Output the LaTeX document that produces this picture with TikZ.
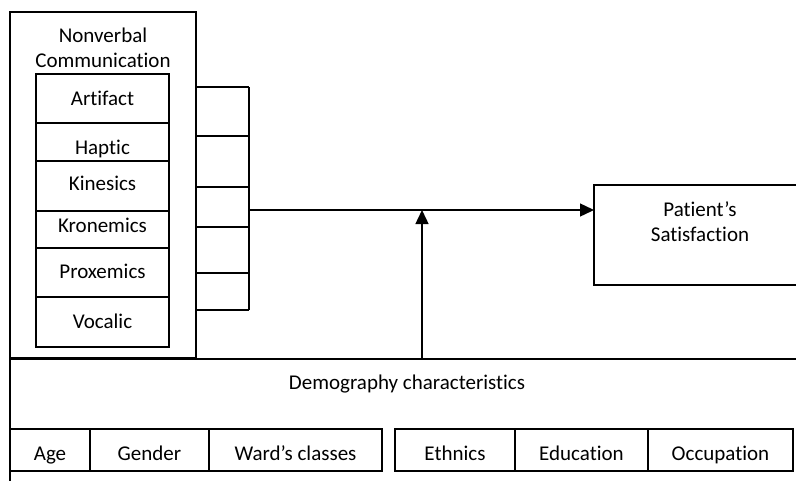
\documentclass[tikz,border=0pt]{standalone}
\usepackage{fontspec}
\setmainfont{Carlito}[Ligatures={NoCommon,NoContextual}]
\usetikzlibrary{arrows.meta}
\begin{document}
\begin{tikzpicture}[x=1pt,y=-1pt,line width=1.4pt,
  bx/.style={draw,inner sep=0pt,outer sep=0pt,anchor=north west},
  wbx/.style={bx,fill=white},
  txt/.style={font=\fontsize{21}{25}\selectfont,inner sep=0pt,align=center},
  lbl/.style={txt,anchor=base},
  arr/.style={-{Triangle[length=14pt,width=13pt]}}]
\useasboundingbox (0,0) rectangle (796,480);
\clip (0,0) rectangle (796,480);
% demography frame (extends beyond right and bottom)
\node[bx,minimum width=820pt,minimum height=140pt] (dem) at (10,359) {};
\node[lbl] (demt) at (407,389) {Demography characteristics};
% nonverbal communication block
\node[wbx,minimum width=186pt,minimum height=346pt] (nv) at (10,12) {};
\node[txt] (nvt) at (103,47.5) {Nonverbal\\Communication};
\node[wbx,minimum width=133pt,minimum height=49pt] (art) at (36,74) {};
\node[lbl] (tart) at (102.5,105) {Artifact};
\node[wbx,minimum width=133pt,minimum height=49pt] (hap) at (36,123) {};
\node[lbl] (thap) at (102.5,154) {Haptic};
\node[wbx,minimum width=133pt,minimum height=50pt] (kin) at (36,161) {};
\node[lbl] (tkin) at (102.5,190) {Kinesics};
\node[wbx,minimum width=133pt,minimum height=49pt] (kro) at (36,211) {};
\node[lbl] (tkro) at (102.5,232) {Kronemics};
\node[wbx,minimum width=133pt,minimum height=49pt] (pro) at (36,248) {};
\node[lbl] (tpro) at (102.5,278) {Proxemics};
\node[wbx,minimum width=133pt,minimum height=50pt] (voc) at (36,297) {};
\node[lbl] (tvoc) at (102.5,328) {Vocalic};
% bracket
\coordinate (b1) at (249,87);
\coordinate (b2) at (249,136);
\coordinate (b3) at (249,187);
\coordinate (b4) at (249,227);
\coordinate (b5) at (249,273);
\coordinate (b6) at (249,310);
\coordinate (bm) at (249,210);
\foreach \c in {b1,b2,b3,b4,b5,b6}{\draw (nv.east |- \c) -- (\c);}
\draw (b1) -- (b6);
% patient's satisfaction
\node[bx,minimum width=240pt,minimum height=100pt] (pat) at (594,185) {};
\node[txt] (patt) at (700,222) {Patient’s\\Satisfaction};
\draw[arr] (bm) -- (bm -| pat.west);
% moderator arrow
\coordinate (d1) at (422,359);
\draw[arr] (d1) -- (d1 |- bm);
% demography items
\node[bx,minimum width=80pt,minimum height=42pt] (age) at (10,429) {};
\node[bx,minimum width=119pt,minimum height=42pt] (gen) at (90,429) {};
\node[bx,minimum width=173pt,minimum height=42pt] (war) at (209,429) {};
\node[bx,minimum width=120pt,minimum height=42pt] (eth) at (395,429) {};
\node[bx,minimum width=133pt,minimum height=42pt] (edu) at (515,429) {};
\node[bx,minimum width=145pt,minimum height=42pt] (occ) at (648,429) {};
\begin{scope}
\clip (0,0) rectangle (796,465);
\node[lbl] (lage) at (age.center |- 0,460) {Age};
\node[lbl] (lgen) at (gen.center |- 0,460) {Gender};
\node[lbl] (lwar) at (war.center |- 0,460) {Ward’s classes};
\node[lbl] (leth) at (eth.center |- 0,460) {Ethnics};
\node[lbl] (ledu) at (edu.center |- 0,460) {Education};
\node[lbl] (locc) at (occ.center |- 0,460) {Occupation};
\end{scope}
\end{tikzpicture}
\end{document}
